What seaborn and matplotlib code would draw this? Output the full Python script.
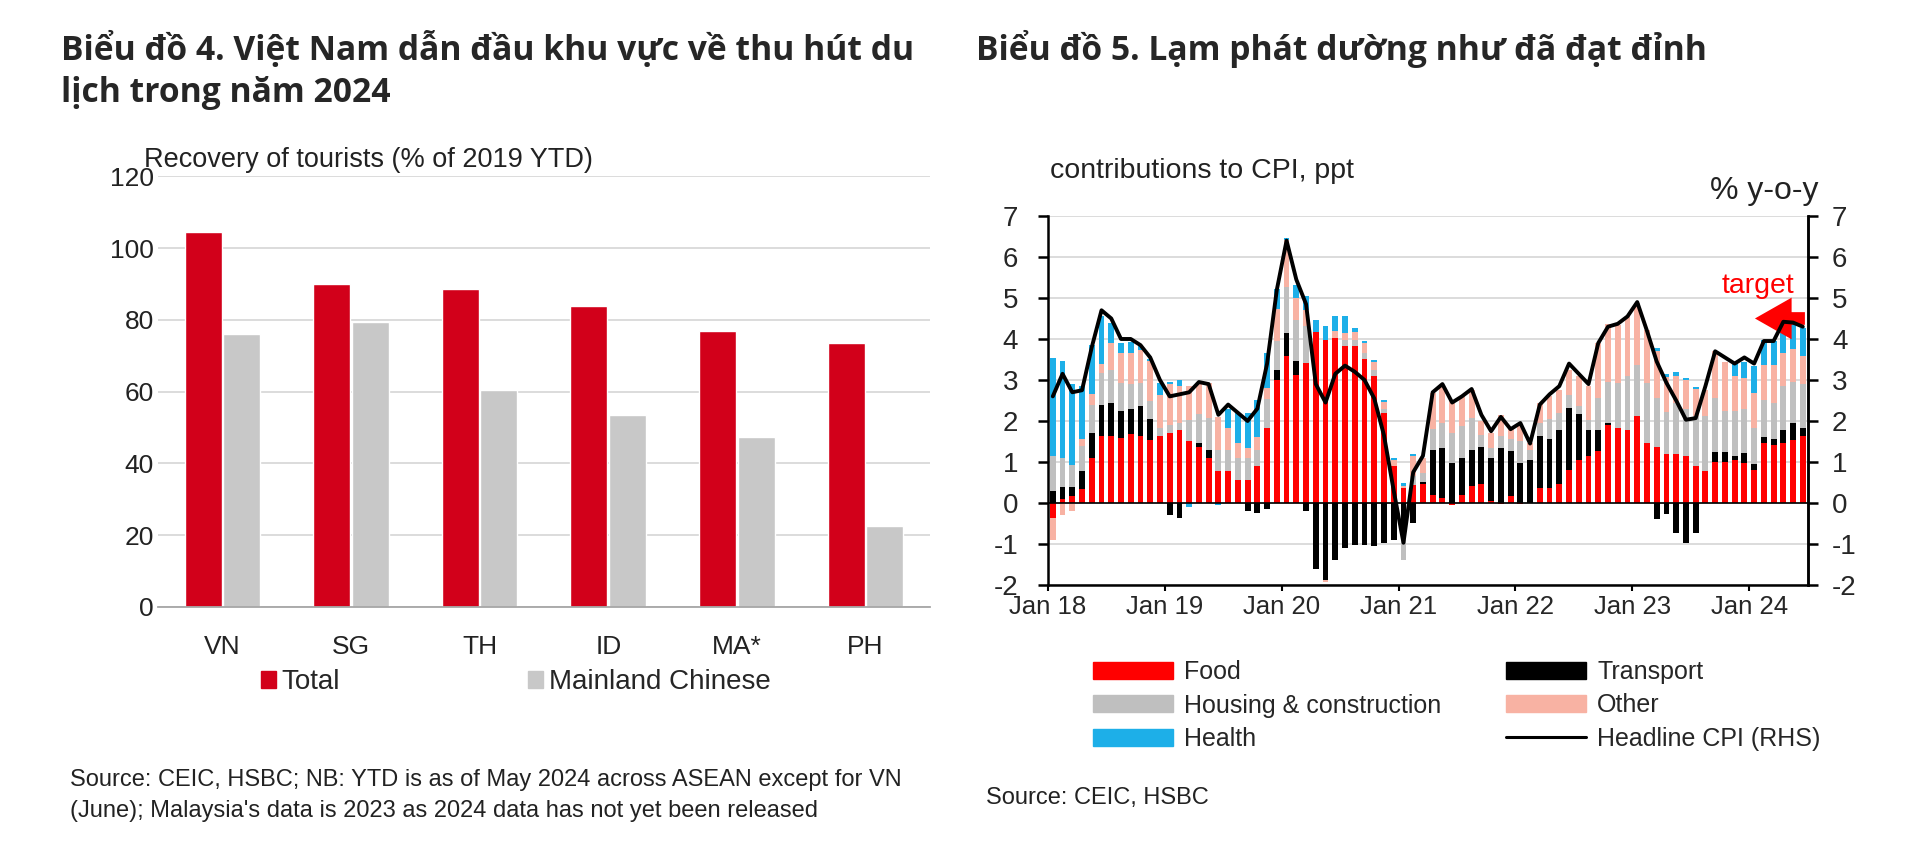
import matplotlib
matplotlib.use("Agg")
import matplotlib.pyplot as plt
from matplotlib.patches import Patch
from matplotlib.lines import Line2D
import numpy as np
import pandas as pd
import seaborn as sns

# ---- Biểu đồ 4: tourist recovery (% of 2019 YTD) ----
COUNTRIES = ["VN", "SG", "TH", "ID", "MA*", "PH"]
TOTAL = [104.5, 90.0, 88.5, 84.0, 77.0, 73.5]
MAINLAND = [76.0, 79.5, 60.5, 53.5, 47.5, 22.5]
SERIES = ["Total", "Mainland Chinese"]

# ---- Biểu đồ 5: contributions to CPI, Jan 2018 - Jun 2024 (ppt) ----
MONTHS = pd.date_range("2018-01-01", "2024-06-01", freq="MS")
YEAR_TICKS = ["Jan 18", "Jan 19", "Jan 20", "Jan 21", "Jan 22", "Jan 23", "Jan 24"]

FOOD = [-0.37, 0.10, 0.16, 0.33, 1.10, 1.63, 1.63, 1.59, 1.69, 1.63, 1.54, 1.63,
        1.70, 1.79, 1.50, 1.37, 1.10, 0.77, 0.77, 0.57, 0.57, 0.90, 1.83, 3.00,
        3.58, 3.13, 3.41, 4.16, 3.98, 4.02, 3.82, 3.82, 3.51, 3.09, 2.20, 0.90,
        0.37, 0.45, 0.47, 0.20, 0.12, -0.05, 0.20, 0.42, 0.47, 0.05, -0.03, 0.16,
        -0.03, 0.00, 0.37, 0.37, 0.47, 0.81, 1.06, 1.15, 1.26, 1.89, 1.83, 1.79,
        2.11, 1.46, 1.37, 1.20, 1.20, 1.14, 0.90, 0.77, 1.00, 1.00, 1.06, 0.98,
        0.80, 1.46, 1.42, 1.46, 1.53, 1.63]
TRANSPORT = [0.28, 0.30, 0.24, 0.45, 0.60, 0.77, 0.82, 0.65, 0.61, 0.73, 0.50, 0.00,
             -0.30, -0.36, 0.00, 0.10, 0.20, 0.00, 0.00, 0.00, -0.20, -0.25, -0.15, 0.25,
             0.57, 0.33, -0.20, -1.60, -1.87, -1.38, -1.10, -1.02, -1.02, -1.06, -0.98, -0.90,
             -0.80, -0.50, 0.05, 1.10, 1.22, 0.98, 0.90, 0.88, 0.89, 1.05, 1.34, 1.10,
             0.98, 1.06, 1.26, 1.20, 1.32, 1.50, 1.10, 0.63, 0.53, 0.05, 0.00, 0.00,
             0.00, 0.00, -0.40, -0.28, -0.73, -0.98, -0.73, 0.00, 0.25, 0.25, 0.08, 0.24,
             0.14, 0.16, 0.14, 0.33, 0.41, 0.20]
HOUSING = [0.86, 0.70, 0.53, 0.60, 0.70, 0.77, 0.80, 0.69, 0.59, 0.57, 0.45, 0.20,
           0.20, 0.16, 0.53, 0.70, 0.77, 0.53, 0.53, 0.53, 0.53, 0.40, 0.70, 0.70,
           1.13, 1.00, 0.90, 0.00, 0.00, 0.00, 0.16, 0.16, 0.15, 0.16, 0.08, 0.00,
           -0.60, 0.20, 0.20, 0.50, 0.60, 0.73, 0.77, 0.77, 0.30, 0.25, 0.30, 0.30,
           0.53, 0.24, 0.33, 0.47, 0.40, 0.33, 0.20, 0.25, 0.77, 1.00, 1.10, 1.30,
           1.26, 1.46, 1.20, 1.03, 1.24, 1.14, 1.22, 1.34, 1.32, 1.00, 1.10, 1.06,
           0.90, 0.90, 0.88, 1.06, 1.00, 1.06]
OTHER = [-0.53, -0.30, -0.20, 0.17, 0.25, 0.23, 0.65, 0.74, 0.78, 0.80, 0.97, 0.80,
         1.00, 0.90, 0.82, 0.75, 0.86, 0.80, 0.53, 0.36, 0.24, 0.30, 0.28, 0.77,
         1.14, 0.55, 0.40, 0.00, -0.05, 0.17, 0.17, 0.20, 0.23, 0.20, 0.18, 0.16,
         0.05, 0.50, 0.38, 0.88, 0.90, 0.77, 0.73, 0.69, 0.35, 0.35, 0.50, 0.25,
         0.40, 0.16, 0.48, 0.56, 0.57, 0.61, 0.74, 0.82, 1.34, 1.42, 1.42, 1.46,
         1.50, 1.30, 1.14, 0.85, 0.65, 0.72, 0.65, 0.64, 1.13, 1.20, 0.85, 0.77,
         0.85, 0.85, 0.93, 0.81, 0.81, 0.69]
HEALTH = [2.40, 2.36, 1.96, 1.30, 1.20, 1.15, 0.50, 0.23, 0.25, 0.10, 0.05, 0.30,
          0.05, 0.15, -0.10, 0.00, 0.00, -0.05, 0.45, 0.74, 0.86, 0.90, 0.86, 0.50,
          0.05, 0.30, 0.35, 0.30, 0.33, 0.38, 0.40, 0.08, 0.05, 0.04, 0.05, 0.04,
          0.07, 0.05, 0.00, 0.00, 0.00, 0.00, 0.00, 0.00, 0.00, 0.00, 0.00, 0.00,
          0.00, 0.00, 0.00, 0.00, 0.00, 0.00, 0.00, 0.00, 0.00, 0.00, 0.00, 0.00,
          0.00, 0.00, 0.08, 0.06, 0.10, 0.05, 0.05, 0.00, 0.00, 0.00, 0.33, 0.40,
          0.65, 0.61, 0.57, 0.73, 0.65, 0.69]
CPI = [2.60, 3.15, 2.70, 2.75, 3.80, 4.70, 4.50, 4.00, 4.00, 3.85, 3.55, 3.00,
       2.60, 2.65, 2.70, 2.95, 2.90, 2.15, 2.40, 2.20, 2.00, 2.30, 3.40, 5.20,
       6.40, 5.45, 4.85, 2.90, 2.45, 3.15, 3.35, 3.20, 3.00, 2.55, 1.65, 0.30,
       -0.97, 0.75, 1.15, 2.70, 2.90, 2.45, 2.60, 2.78, 2.15, 1.75, 2.10, 1.80,
       1.95, 1.45, 2.40, 2.65, 2.85, 3.40, 3.15, 2.90, 3.90, 4.30, 4.37, 4.55,
       4.90, 4.20, 3.45, 2.93, 2.50, 2.03, 2.07, 2.85, 3.70, 3.55, 3.40, 3.55,
       3.40, 3.95, 3.95, 4.42, 4.40, 4.30]
TARGET = 4.5

RED_BAR = "#D2001A"
GRAY_BAR = "#C8C8C8"
COMPONENTS = [
    ("Food", FOOD, "#FF0000"),
    ("Transport", TRANSPORT, "#000000"),
    ("Housing & construction", HOUSING, "#BFBFBF"),
    ("Other", OTHER, "#F8B2A3"),
    ("Health", HEALTH, "#1DAFE8"),
]

sns.set_theme(style="white")
plt.rcParams["font.family"] = ["Liberation Sans", "DejaVu Sans"]
plt.rcParams["axes.unicode_minus"] = False
TITLE_FONT = ["Open Sans", "DejaVu Sans"]
GRID = "#D9D9D9"

fig = plt.figure(figsize=(19.2, 8.5), dpi=100)

# ================= left chart =================
ax1 = fig.add_axes([0.0823, 0.2859, 0.402, 0.5065])
df = pd.DataFrame({
    "country": COUNTRIES * 2,
    "value": TOTAL + MAINLAND,
    "series": [SERIES[0]] * len(COUNTRIES) + [SERIES[1]] * len(COUNTRIES),
})
sns.barplot(data=df, x="country", y="value", hue="series", order=COUNTRIES,
            hue_order=SERIES, palette=[RED_BAR, GRAY_BAR], saturation=1,
            width=0.6, gap=0.04, errorbar=None, legend=False, ax=ax1)
ax1.set_ylim(0, 120)
ax1.set_yticks(range(0, 121, 20))
ax1.set_xlim(-0.5, len(COUNTRIES) - 0.5)
ax1.set_xlabel("")
ax1.set_ylabel("")
ax1.yaxis.grid(True, color=GRID, lw=1.3)
ax1.set_axisbelow(True)
for s in ["top", "right", "left"]:
    ax1.spines[s].set_visible(False)
ax1.spines["bottom"].set_color("#A6A6A6")
ax1.spines["bottom"].set_linewidth(1.3)
ax1.tick_params(axis="y", length=0, pad=3, labelsize=19, colors="#222222")
ax1.tick_params(axis="x", length=0, pad=20, labelsize=19, colors="#222222")

fig.text(144 / 1920, 1 - 160 / 850, "Recovery of tourists (% of 2019 YTD)",
         fontsize=19.5, ha="left", va="center", color="#222222")

fig.legend(handles=[Patch(color=RED_BAR), Patch(color=GRAY_BAR)], labels=SERIES,
           ncol=2, loc="center left", bbox_to_anchor=(261 / 1920, 1 - 682 / 850),
           frameon=False, fontsize=20, handlelength=0.55, handleheight=0.55,
           handletextpad=0.2, columnspacing=6.75, borderpad=0, borderaxespad=0)

fig.text(61 / 1920, 1 - 49 / 850, "Biểu đồ 4. Việt Nam dẫn đầu khu vực về thu hút du",
         fontsize=24.2, fontweight="bold", family=TITLE_FONT, ha="left", va="center")
fig.text(61 / 1920, 1 - 93 / 850, "lịch trong năm 2024",
         fontsize=24.2, fontweight="bold", family=TITLE_FONT, ha="left", va="center")
fig.text(70 / 1920, 1 - 780 / 850,
         "Source: CEIC, HSBC; NB: YTD is as of May 2024 across ASEAN except for VN",
         fontsize=17, ha="left", va="center", color="#222222")
fig.text(70 / 1920, 1 - 811 / 850,
         "(June); Malaysia's data is 2023 as 2024 data has not yet been released",
         fontsize=17, ha="left", va="center", color="#222222")

# ================= right chart =================
ax = fig.add_axes([0.5458, 0.3118, 0.3957, 0.4341])
x = np.arange(len(MONTHS))
pos = np.zeros(len(x))
neg = np.zeros(len(x))
for name, vals, col in COMPONENTS:
    v = np.array(vals)
    bottom = np.where(v >= 0, pos, neg)
    ax.bar(x, v, bottom=bottom, width=0.6, color=col, linewidth=0, zorder=2)
    pos += np.clip(v, 0, None)
    neg += np.clip(v, None, 0)

ax.set_xlim(-0.5, len(x) - 0.5)
ax.set_ylim(-2, 7)
ax.set_yticks(range(-2, 8))
ax.yaxis.grid(True, color=GRID, lw=1.3, zorder=0)
ax.axhline(0, color="black", lw=1.2, zorder=3)
jan_pos = x[MONTHS.month == 1] - 0.5
ax.set_xticks(jan_pos)
ax.set_xticklabels(YEAR_TICKS)
ax.spines["top"].set_visible(False)
for s in ["left", "right", "bottom"]:
    ax.spines[s].set_color("black")
    ax.spines[s].set_linewidth(1.8)
ax.tick_params(axis="y", direction="out", length=7.5, width=1.8, color="black",
               pad=14, labelsize=20, left=True)
ax.tick_params(axis="x", direction="out", length=4, width=1.5, color="black",
               pad=3, labelsize=18.5, bottom=True)

ax2 = ax.twinx()
sns.lineplot(x=x, y=CPI, ax=ax2, color="black", lw=2.8, zorder=4)
ax2.set_ylim(-2, 7)
ax2.set_yticks(range(-2, 8))
ax2.set_ylabel("")
ax2.grid(False)
for s in ["top", "left", "bottom"]:
    ax2.spines[s].set_visible(False)
ax2.spines["right"].set_color("black")
ax2.spines["right"].set_linewidth(1.8)
ax2.tick_params(axis="y", direction="out", length=7.5, width=1.8, color="black",
                pad=10, labelsize=20, right=True)

ax2.annotate("", xy=(71.8, TARGET), xytext=(77.5, TARGET),
             arrowprops=dict(arrowstyle="simple,head_length=1.1,head_width=1.25,tail_width=0.38",
                             color="#FF0000", mutation_scale=24, lw=0))
ax2.text(72.4, 5.3, "target", color="#FF0000", fontsize=20.5, ha="center", va="center")

fig.text(1050 / 1920, 1 - 171 / 850, "contributions to CPI, ppt",
         fontsize=20.5, ha="left", va="center", color="#222222")
fig.text(1818 / 1920, 1 - 191 / 850, "% y-o-y",
         fontsize=23, ha="right", va="center", color="#222222")

handles = [Patch(color=c) for _, _, c in COMPONENTS] + [Line2D([], [], color="black", lw=2.2)]
labels = [n for n, _, _ in COMPONENTS] + ["Headline CPI (RHS)"]
order = [0, 2, 4, 1, 3, 5]
fig.legend(handles=[handles[i] for i in order], labels=[labels[i] for i in order],
           ncol=2, loc="upper left", bbox_to_anchor=(1093 / 1920, 1 - 660 / 850),
           frameon=False, fontsize=18, handlelength=3.2, handleheight=0.68,
           handletextpad=0.44, columnspacing=2.6, labelspacing=0.38,
           borderpad=0, borderaxespad=0)

fig.text(976 / 1920, 1 - 49 / 850, "Biểu đồ 5. Lạm phát dường như đã đạt đỉnh",
         fontsize=24.2, fontweight="bold", family=TITLE_FONT, ha="left", va="center")
fig.text(986 / 1920, 1 - 798 / 850, "Source: CEIC, HSBC",
         fontsize=17, ha="left", va="center", color="#222222")

fig.savefig("out.png", dpi=100)
plt.close(fig)
